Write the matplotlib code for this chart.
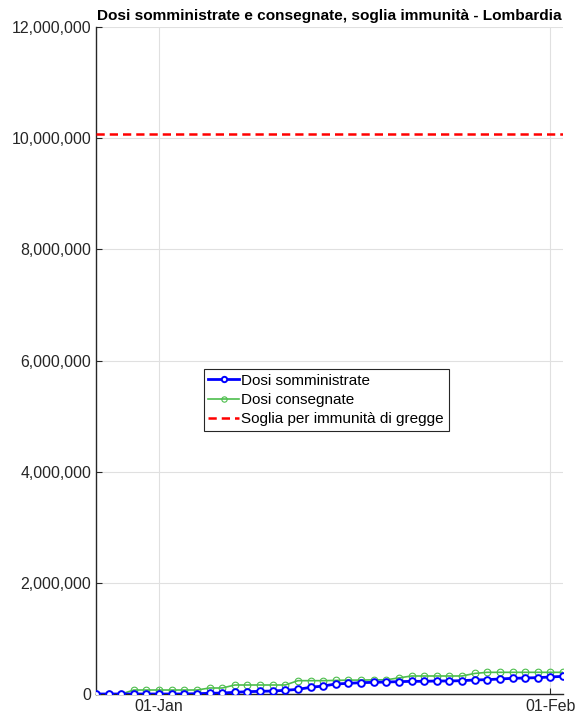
import matplotlib
matplotlib.use("Agg")
import matplotlib.pyplot as plt
import matplotlib.dates as mdates
import numpy as np
import pandas as pd

plt.rcParams['font.family'] = ['Liberation Sans', 'DejaVu Sans']

dates = pd.date_range("2020-12-27", "2021-02-02", freq="D")
somministrate = [0, 0, 0, 0, 0, 0, 0, 0, 6000, 12000, 18000, 30000, 42000, 48000,
                 54000, 66000, 84000, 120000, 144000, 180000, 192000, 204000, 210000,
                 216000, 222000, 228000, 228000, 234000, 234000, 240000, 252000,
                 258000, 270000, 282000, 288000, 294000, 306000, 318000]
consegnate = [0, 0, 0, 72000, 72000, 72000, 72000, 72000, 72000, 108000, 108000,
              162000, 162000, 162000, 162000, 162000, 240000, 240000, 240000, 245000,
              250000, 250000, 255000, 255000, 290000, 324000, 324000, 324000, 324000,
              324000, 370000, 390000, 390000, 390000, 390000, 390000, 390000, 390000]
soglia = 10080000

fig = plt.figure(figsize=(5.81, 7.22), dpi=100)
ax = fig.add_axes([96/581, 1 - 694/722, (563-96)/581, (694-27)/722])

ax.plot(dates, somministrate, '-o', color='#0000FF', lw=2, ms=4.8, mfc='white', mew=1.4,
        label='Dosi somministrate', zorder=4)
ax.plot(dates, consegnate, '-o', color='#4DBE4D', lw=1.2, ms=4.8, mfc='none', mew=0.8,
        label='Dosi consegnate', zorder=3)
ax.axhline(soglia, color='#FF0000', ls='--', lw=1.8, dashes=(3.3, 2),
           label='Soglia per immunità di gregge', zorder=3)

ax.set_xlim(dates[0], dates[-1])
ax.set_ylim(0, 12000000)
ax.set_yticks(np.arange(0, 12000001, 2000000))
ax.yaxis.set_major_formatter(matplotlib.ticker.FuncFormatter(lambda v, p: f"{int(v):,}"))
ax.set_xticks([pd.Timestamp("2021-01-01"), pd.Timestamp("2021-02-01")])
ax.xaxis.set_major_formatter(mdates.DateFormatter("%d-%b"))
ax.tick_params(direction='in', labelsize=11.4, length=4, color='#262626', labelcolor='#262626')
ax.grid(True, color='#E0E0E0', lw=0.8)
ax.set_axisbelow(True)
for s in ['top', 'right']:
    ax.spines[s].set_visible(False)
for s in ['left', 'bottom']:
    ax.spines[s].set_color('#262626')
    ax.spines[s].set_linewidth(1.0)

ax.set_title('Dosi somministrate e consegnate, soglia immunità - Lombardia',
             fontsize=11.1, fontweight='bold', pad=5)

leg = ax.legend(loc='upper left', bbox_to_anchor=(0.231, 0.487), fontsize=11,
                frameon=True, fancybox=False, edgecolor='#262626', framealpha=1,
                borderpad=0.3, labelspacing=0.35, handlelength=2.0, handletextpad=0.15,
                borderaxespad=0, markerscale=0.8)
leg.get_frame().set_linewidth(0.8)

fig.savefig("out.png", dpi=100)
